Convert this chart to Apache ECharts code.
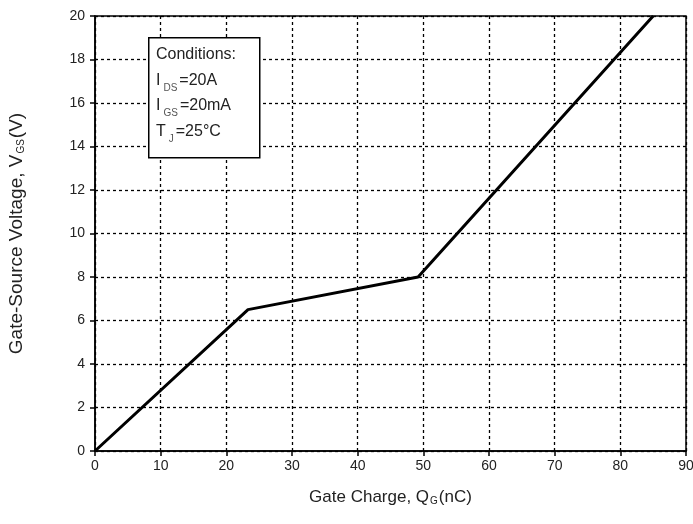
<!DOCTYPE html>
<html>
<head>
<meta charset="utf-8">
<script src="https://cdn.jsdelivr.net/npm/echarts@6/dist/echarts.min.js"></script>
<style>
  html, body { margin: 0; padding: 0; background: #fff; }
  #chart { width: 693px; height: 524px; }
</style>
</head>
<body>
<div id="chart"></div>
<script>
  // gate charge curve, Qg (nC) vs Vgs (V)
  var gateCharge = [0, 23.3, 49.2, 85]
  var gateVoltage = [0, 6.5, 8.0, 20]

  var xTicks = [0, 10, 20, 30, 40, 50, 60, 70, 80, 90]
  var yTicks = [0, 2, 4, 6, 8, 10, 12, 14, 16, 18, 20]

  var conditions = ['Conditions:', 'DS|=20A', 'GS|=20mA', 'J|=25°C']

  var points = gateCharge.map(function (q, i) {
    return [q, gateVoltage[i]]
  })

  var font = 'Liberation Sans, Arial, sans-serif'
  var textColor = '#222'

  var chart = echarts.init(document.getElementById('chart'))

  var boxLines = conditions.map(function (c, i) {
    if (i === 0) return c
    var parts = c.split('|')
    var letter = i === 3 ? 'T' : 'I'
    return letter + '{sub|' + parts[0] + '}' + parts[1]
  })

  chart.setOption({
    animation: false,
    backgroundColor: '#fff',
    grid: {
      left: 95,
      right: 7,
      top: 16,
      bottom: 73,
      outerBoundsMode: 'none',
      containLabel: false,
      show: true,
      borderColor: '#000',
      borderWidth: 1.5
    },
    xAxis: {
      type: 'value',
      min: xTicks[0],
      max: xTicks[xTicks.length - 1],
      interval: 10,
      name: 'Gate Charge, Q{sub|G}(nC)',
      nameLocation: 'middle',
      nameGap: 38,
      nameTextStyle: {
        fontFamily: font,
        fontSize: 17,
        color: textColor,
        rich: {
          sub: { fontSize: 10, verticalAlign: 'bottom', padding: [7, 1, 0, 1], color: textColor }
        }
      },
      axisLine: { show: true, lineStyle: { color: '#000', width: 1.5 } },
      axisTick: { show: true, inside: false, length: 5, lineStyle: { color: '#000', width: 1.5 } },
      axisLabel: { fontFamily: font, fontSize: 14, color: textColor, margin: 8 },
      splitLine: { show: true, lineStyle: { color: '#000', type: [3, 3], width: 1.3 } }
    },
    yAxis: {
      type: 'value',
      min: yTicks[0],
      max: yTicks[yTicks.length - 1],
      interval: 2,
      name: 'Gate-Source Voltage, V{sub|GS}(V)',
      nameLocation: 'middle',
      nameRotate: 90,
      nameGap: 69,
      nameTextStyle: {
        fontFamily: font,
        fontSize: 19,
        color: textColor,
        rich: {
          sub: { fontSize: 10, verticalAlign: 'bottom', padding: [8, 1, 0, 1], color: textColor }
        }
      },
      axisLine: { show: true, lineStyle: { color: '#000', width: 1.5 } },
      axisTick: { show: true, inside: false, length: 5, lineStyle: { color: '#000', width: 1.5 } },
      axisLabel: { fontFamily: font, fontSize: 14, color: textColor, margin: 10 },
      splitLine: { show: true, lineStyle: { color: '#000', type: [3, 3], width: 1.3 } }
    },
    series: [
      {
        type: 'line',
        data: points,
        symbol: 'none',
        lineStyle: { color: '#000', width: 3 },
        z: 3
      }
    ],
    graphic: [
      {
        type: 'rect',
        left: 148,
        top: 37,
        shape: { width: 111, height: 120 },
        style: { fill: '#fff', stroke: '#000', lineWidth: 1.5 },
        z: 10
      },
      {
        type: 'text',
        left: 156,
        top: 42,
        z: 11,
        style: {
          text: boxLines.join('\n'),
          fontFamily: font,
          fontSize: 16,
          lineHeight: 25.5,
          fill: textColor,
          rich: {
            sub: { fontSize: 10, verticalAlign: 'bottom', padding: [9, 2, 0, 3], fill: '#555' }
          }
        }
      }
    ]
  })
</script>
</body>
</html>
